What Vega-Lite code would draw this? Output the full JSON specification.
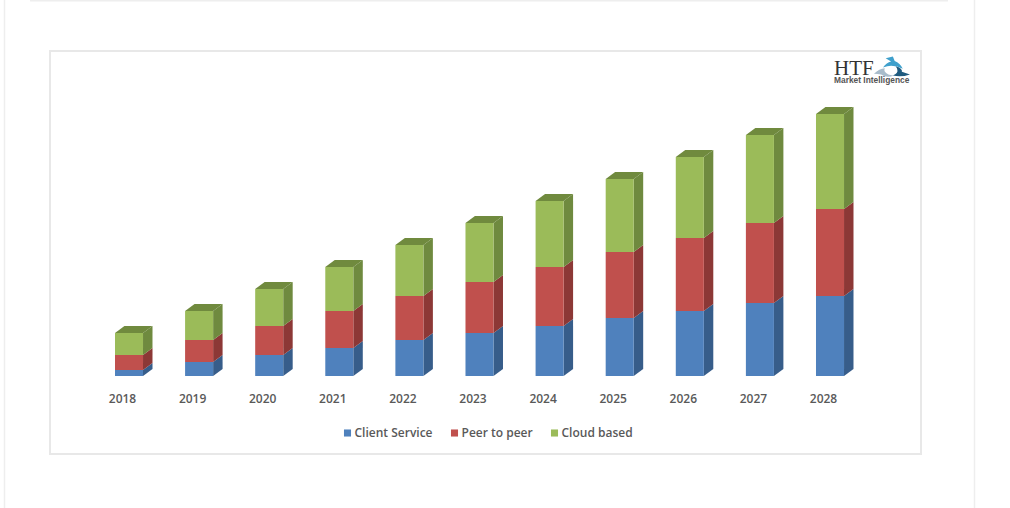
{
  "$schema": "https://vega.github.io/schema/vega-lite/v6.json",
  "width": 871,
  "height": 403,
  "autosize": {"type": "none"},
  "padding": {"left": 50, "top": 51, "right": 89, "bottom": 54},
  "background": "#ffffff",
  "view": {"stroke": "#e8e8e8", "strokeWidth": 2, "fill": "#ffffff"},
  "config": {"font": "Open Sans"},
  "datasets": {
    "bars": [
      {"year": 2018, "series": "Client Service", "value": 0.6},
      {"year": 2018, "series": "Peer to peer", "value": 1.5},
      {"year": 2018, "series": "Cloud based", "value": 2.2},
      {"year": 2019, "series": "Client Service", "value": 1.4},
      {"year": 2019, "series": "Peer to peer", "value": 2.2},
      {"year": 2019, "series": "Cloud based", "value": 2.9},
      {"year": 2020, "series": "Client Service", "value": 2.1},
      {"year": 2020, "series": "Peer to peer", "value": 2.9},
      {"year": 2020, "series": "Cloud based", "value": 3.7},
      {"year": 2021, "series": "Client Service", "value": 2.8},
      {"year": 2021, "series": "Peer to peer", "value": 3.7},
      {"year": 2021, "series": "Cloud based", "value": 4.4},
      {"year": 2022, "series": "Client Service", "value": 3.6},
      {"year": 2022, "series": "Peer to peer", "value": 4.4},
      {"year": 2022, "series": "Cloud based", "value": 5.1},
      {"year": 2023, "series": "Client Service", "value": 4.3},
      {"year": 2023, "series": "Peer to peer", "value": 5.1},
      {"year": 2023, "series": "Cloud based", "value": 5.9},
      {"year": 2024, "series": "Client Service", "value": 5.0},
      {"year": 2024, "series": "Peer to peer", "value": 5.9},
      {"year": 2024, "series": "Cloud based", "value": 6.6},
      {"year": 2025, "series": "Client Service", "value": 5.8},
      {"year": 2025, "series": "Peer to peer", "value": 6.6},
      {"year": 2025, "series": "Cloud based", "value": 7.3},
      {"year": 2026, "series": "Client Service", "value": 6.5},
      {"year": 2026, "series": "Peer to peer", "value": 7.3},
      {"year": 2026, "series": "Cloud based", "value": 8.1},
      {"year": 2027, "series": "Client Service", "value": 7.3},
      {"year": 2027, "series": "Peer to peer", "value": 8.0},
      {"year": 2027, "series": "Cloud based", "value": 8.8},
      {"year": 2028, "series": "Client Service", "value": 8.0},
      {"year": 2028, "series": "Peer to peer", "value": 8.7},
      {"year": 2028, "series": "Cloud based", "value": 9.5}
    ]
  },
  "resolve": {"scale": {"color": "independent"}},
  "layer": [
    {
      "data": {"values": [{"edge": "left"}]},
      "mark": {"type": "rule", "color": "#eeeeee", "strokeWidth": 1.5},
      "encoding": {
        "x": {"datum": 2016.224, "type": "quantitative", "scale": {"domain": [2016.873, 2029.298], "nice": false, "zero": false}, "title": null,
          "axis": {"title": null, "values": [2018, 2019, 2020, 2021, 2022, 2023, 2024, 2025, 2026, 2027, 2028], "format": "d", "grid": false, "domain": false, "ticks": false, "offset": -61, "labelPadding": 0, "labelOffset": -7, "labelFont": "Open Sans", "labelFontSize": 12, "labelFontWeight": 600, "labelColor": "#595959", "labelOverlap": false, "labelFlush": false}},
        "y": {"datum": 37.6, "type": "quantitative", "scale": {"domain": [-7.8, 32.5], "nice": false, "zero": false}, "axis": null},
        "y2": {"datum": -13.2}
      }
    },
    {
      "data": {"values": [{"edge": "right"}]},
      "mark": {"type": "rule", "color": "#eeeeee", "strokeWidth": 1.5},
      "encoding": {
        "x": {"datum": 2030.061, "type": "quantitative", "title": null},
        "y": {"datum": 37.6, "type": "quantitative"},
        "y2": {"datum": -13.2}
      }
    },
    {
      "data": {"values": [{"edge": "top"}]},
      "mark": {"type": "rule", "color": "#eeeeee", "strokeWidth": 2},
      "encoding": {
        "x": {"datum": 2016.588, "type": "quantitative", "title": null},
        "x2": {"datum": 2029.683},
        "y": {"datum": 37.55, "type": "quantitative"}
      }
    },
    {
      "data": {"name": "bars"},
      "transform": [
        {"calculate": "indexof(['Client Service','Peer to peer','Cloud based'], datum.series)", "as": "rank"},
        {"stack": "value", "groupby": ["year"], "sort": [{"field": "rank", "order": "ascending"}], "as": ["v0", "v1"]},
        {"calculate": "[0,1]", "as": "corner"},
        {"flatten": ["corner"]},
        {"calculate": "datum.year + 0.2 + datum.corner * 0.135", "as": "sx"},
        {"calculate": "datum.v0 + datum.corner * 0.7", "as": "sy0"},
        {"calculate": "datum.v1 + datum.corner * 0.7", "as": "sy1"}
      ],
      "mark": {"type": "area", "orient": "vertical", "interpolate": "linear"},
      "encoding": {
        "x": {"field": "sx", "type": "quantitative", "title": null},
        "y": {"field": "sy0", "type": "quantitative"},
        "y2": {"field": "sy1"},
        "detail": {"field": "year"},
        "color": {"field": "series", "type": "nominal", "legend": null,
          "scale": {"domain": ["Client Service", "Peer to peer", "Cloud based"], "range": ["#375d8a", "#8c3836", "#6f8a3f"]}}
      }
    },
    {
      "data": {"name": "bars"},
      "transform": [
        {"calculate": "indexof(['Client Service','Peer to peer','Cloud based'], datum.series)", "as": "rank"},
        {"stack": "value", "groupby": ["year"], "sort": [{"field": "rank", "order": "ascending"}], "as": ["v0", "v1"]},
        {"filter": "datum.series === 'Cloud based'"},
        {"calculate": "[0,1]", "as": "corner"},
        {"flatten": ["corner"]},
        {"calculate": "datum.year - 0.2 + datum.corner * 0.135", "as": "tx0"},
        {"calculate": "datum.year + 0.2 + datum.corner * 0.135", "as": "tx1"},
        {"calculate": "datum.v1 + datum.corner * 0.7", "as": "ty"}
      ],
      "mark": {"type": "area", "orient": "horizontal", "interpolate": "linear", "color": "#708a3e"},
      "encoding": {
        "y": {"field": "ty", "type": "quantitative"},
        "x": {"field": "tx0", "type": "quantitative", "title": null},
        "x2": {"field": "tx1"},
        "detail": {"field": "year"}
      }
    },
    {
      "data": {"name": "bars"},
      "transform": [
        {"calculate": "indexof(['Client Service','Peer to peer','Cloud based'], datum.series)", "as": "rank"},
        {"stack": "value", "groupby": ["year"], "sort": [{"field": "rank", "order": "ascending"}], "as": ["v0", "v1"]},
        {"calculate": "datum.year - 0.2", "as": "fx0"},
        {"calculate": "datum.year + 0.2", "as": "fx1"}
      ],
      "mark": {"type": "rect"},
      "encoding": {
        "x": {"field": "fx0", "type": "quantitative", "title": null},
        "x2": {"field": "fx1"},
        "y": {"field": "v0", "type": "quantitative"},
        "y2": {"field": "v1"},
        "color": {"field": "series", "type": "nominal",
          "scale": {"domain": ["Client Service", "Peer to peer", "Cloud based"], "range": ["#4f81bd", "#c0504d", "#9bbb59"]},
          "legend": {"title": null, "orient": "none", "legendX": 291.5, "legendY": 376, "direction": "horizontal", "columns": 3, "columnPadding": 15, "symbolType": "square", "symbolSize": 50, "symbolStrokeWidth": 0, "labelFont": "Open Sans", "labelFontSize": 12, "labelFontWeight": 600, "labelColor": "#595959", "labelOffset": 1, "padding": 0}}
      }
    },
    {
      "data": {"values": [{"part": "logo swoosh"}]},
      "mark": {"type": "point", "filled": true, "opacity": 1, "size": 1296, "color": "#3fa0cc", "strokeWidth": 0, "shape": "M-0.5,-0.07 Q-0.3,-0.37 -0.05,-0.41 L-0.35,-0.58 L0.05,-0.68 L0.15,-0.44 Q0.45,-0.34 0.6,0 Q0.3,-0.17 -0.05,-0.17 Q-0.25,-0.17 -0.5,-0.07 Z"},
      "encoding": {"x": {"datum": 2028.884, "type": "quantitative", "title": null}, "y": {"datum": 30.72, "type": "quantitative"}}
    },
    {
      "data": {"values": [{"part": "logo arc"}]},
      "mark": {"type": "point", "filled": true, "opacity": 1, "size": 1296, "color": "#1f5b7f", "strokeWidth": 0, "shape": "M0.2,-0.14 Q0.6,-0.03 0.55,0.17 L1,0.31 Q0.5,0.48 0.05,0.37 Q0.35,0.24 0.3,0.07 Q0.3,-0.03 0.2,-0.14 Z"},
      "encoding": {"x": {"datum": 2028.884, "type": "quantitative", "title": null}, "y": {"datum": 30.72, "type": "quantitative"}}
    },
    {
      "data": {"values": [{"part": "logo wing"}]},
      "mark": {"type": "point", "filled": true, "opacity": 1, "size": 1296, "color": "#a8bccb", "strokeWidth": 0, "shape": "M-1,0.27 Q-0.7,0 -0.4,-0.03 Q-0.5,0.17 -0.2,0.31 Q0,0.37 0.1,0.37 Q-0.3,0.54 -0.6,0.31 Q-0.8,0.27 -1,0.27 Z"},
      "encoding": {"x": {"datum": 2028.884, "type": "quantitative", "title": null}, "y": {"datum": 30.72, "type": "quantitative"}}
    },
    {
      "data": {"values": [{"label": "HTF"}]},
      "mark": {"type": "text", "font": "Liberation Serif", "fontSize": 21, "align": "left", "baseline": "alphabetic", "color": "#333333"},
      "encoding": {
        "x": {"datum": 2028.057, "type": "quantitative", "title": null},
        "y": {"datum": 30.12, "type": "quantitative"},
        "text": {"field": "label"}
      }
    },
    {
      "data": {"values": [{"label": "Market Intelligence"}]},
      "mark": {"type": "text", "font": "Liberation Sans", "fontSize": 8.4, "fontWeight": "bold", "align": "left", "baseline": "alphabetic", "color": "#555555"},
      "encoding": {
        "x": {"datum": 2028.057, "type": "quantitative", "title": null},
        "y": {"datum": 29.3, "type": "quantitative"},
        "text": {"field": "label"}
      }
    }
  ]
}
